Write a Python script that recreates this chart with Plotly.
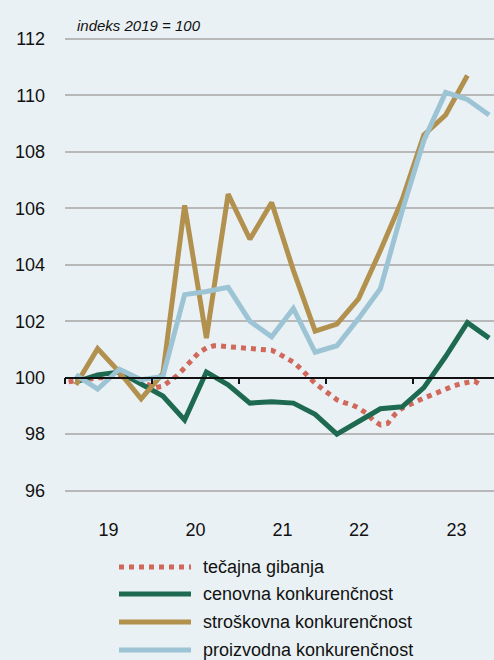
import plotly.graph_objects as go

# ---------------- data ----------------
quarters = [f"{y}Q{q}" for y in range(2019, 2024) for q in range(1, 5)]
months = [f"{y}-{m:02d}" for y in range(2019, 2024) for m in range(1, 13)][:58]  # Jan 2019 - Oct 2023

tecajna = [99.85, 99.9, 99.95, 99.95, 100.0, 100.0, 100.05, 100.05, 100.0, 99.95, 99.85, 99.75,
           99.65, 99.7, 99.9, 100.08, 100.35, 100.65, 100.9, 101.05, 101.13, 101.12, 101.1, 101.1,
           101.08, 101.06, 101.03, 101.02, 100.97, 100.85, 100.72, 100.55, 100.32, 100.05, 99.8, 99.6,
           99.4, 99.22, 99.12, 99.05, 98.93, 98.75, 98.5, 98.33, 98.38, 98.7, 98.92, 99.05,
           99.18, 99.28, 99.38, 99.5, 99.6, 99.7, 99.78, 99.85, 99.88, 99.72]
cenovna = [99.85, 100.1, 100.2, 99.75, 99.35, 98.5, 100.2, 99.75, 99.1, 99.15, 99.1, 98.7,
           98.0, 98.45, 98.9, 98.97, 99.65, 100.75, 101.95, 101.4]
stroskovna = [99.75, 101.03, 100.2, 99.25, 100.15, 106.1, 101.4, 106.5, 104.9, 106.2, 103.8, 101.65,
              101.9, 102.8, 104.5, 106.3, 108.6, 109.3, 110.7]
proizvodna = [100.1, 99.6, 100.3, 99.93, 100.04, 102.94, 103.05, 103.2, 102.0, 101.45, 102.45, 100.9,
              101.13, 102.1, 103.15, 105.9, 108.4, 110.1, 109.85, 109.3]

year_ticks = [2019, 2020, 2021, 2022, 2023]
label_pos = [2019.5, 2020.5, 2021.5, 2022.38, 2023.5]
label_text = ["19", "20", "21", "22", "23"]
y_ticks = [96, 98, 100, 102, 104, 106, 108, 110, 112]

names = ["tečajna gibanja", "cenovna konkurenčnost", "stroškovna konkurenčnost", "proizvodna konkurenčnost"]


def q_to_x(q):
    y, n = q.split("Q")
    return int(y) + (int(n) - 0.5) / 4


def m_to_x(m):
    y, n = m.split("-")
    return int(y) + (int(n) - 0.5) / 12


xq = [q_to_x(q) for q in quarters]
xm = [m_to_x(m) for m in months]

# ---------------- style ----------------
BG = "#eaf1f5"
C_RED = "#d0695b"
C_GREEN = "#1e6a50"
C_GOLD = "#b2914f"
C_BLUE = "#9cc4d4"
FONT = "Liberation Sans, Arial, sans-serif"
LW = 5

fig = go.Figure()
fig.add_trace(go.Scatter(x=xm, y=tecajna, mode="lines", name=names[0],
                         line=dict(color=C_RED, width=LW, dash="dot")))
fig.add_trace(go.Scatter(x=xq[:len(cenovna)], y=cenovna, mode="lines", name=names[1],
                         line=dict(color=C_GREEN, width=LW)))
fig.add_trace(go.Scatter(x=xq[:len(stroskovna)], y=stroskovna, mode="lines", name=names[2],
                         line=dict(color=C_GOLD, width=LW)))
fig.add_trace(go.Scatter(x=xq[:len(proizvodna)], y=proizvodna, mode="lines", name=names[3],
                         line=dict(color=C_BLUE, width=LW)))

XR = [2019, 2019 + 429 / 87]
YR = [95.28, 112.31]
pos100 = (100 - YR[0]) / (YR[1] - YR[0])

fig.update_layout(
    width=494, height=660,
    margin=dict(l=65, r=0, t=30, b=149),
    paper_bgcolor=BG, plot_bgcolor=BG,
    showlegend=False,
    font=dict(family=FONT, size=18, color="#111111"),
    xaxis=dict(range=XR, tickvals=label_pos, ticktext=label_text, showgrid=False,
               zeroline=False, showline=False, ticks="outside", ticklen=2,
               tickcolor="rgba(0,0,0,0)", tickfont=dict(size=18)),
    xaxis2=dict(range=XR, overlaying="x", anchor="free", position=pos100, side="bottom",
                tickvals=year_ticks, showticklabels=False, ticks="outside", ticklen=6,
                tickwidth=1.5, tickcolor="#111111", showline=True, linecolor="#111111",
                linewidth=1.5, showgrid=False, zeroline=False),
    yaxis=dict(range=YR, tickvals=y_ticks, showgrid=True, gridcolor="#b8b8b8", gridwidth=1.5,
               zeroline=False, showline=False, ticks="", ticklabelstandoff=19,
               tickfont=dict(size=18)),
)

# invisible helper trace so the overlay axis is drawn
fig.add_trace(go.Scatter(x=XR, y=[100, 100], xaxis="x2", yaxis="y", mode="lines",
                         line=dict(width=0), hoverinfo="skip", showlegend=False))

fig.add_annotation(text="<i>indeks 2019 = 100</i>", xref="paper", yref="paper",
                   x=10 / 429, y=(511 - 25) / 481, xanchor="left", yanchor="middle",
                   showarrow=False, font=dict(size=15, family=FONT))

# manual legend (long symbol lines as in the original)
leg_colors = [C_RED, C_GREEN, C_GOLD, C_BLUE]
leg_dash = ["dot", "solid", "solid", "solid"]
leg_y = [567, 594, 622, 650]
for nm, c, d, py in zip(names, leg_colors, leg_dash, leg_y):
    yp = (511 - py) / 481
    fig.add_shape(type="line", xref="paper", yref="paper", x0=(119 - 65) / 429, x1=(191 - 65) / 429,
                  y0=yp, y1=yp, line=dict(color=c, width=LW, dash=d))
    fig.add_annotation(text=nm, xref="paper", yref="paper", x=(201 - 65) / 429, y=yp,
                       xanchor="left", yanchor="middle", showarrow=False,
                       font=dict(size=18, family=FONT))

fig.write_html("out.html", config={"displayModeBar": False},
               post_script="document.body.style.margin='0';document.body.style.background='%s';" % BG)
